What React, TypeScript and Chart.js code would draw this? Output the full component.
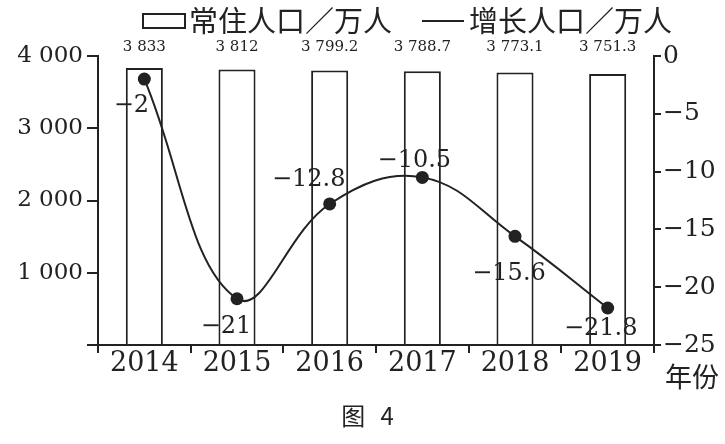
import React, { useEffect, useRef } from 'react';
import { Chart, registerables } from 'chart.js';

Chart.register(...registerables);

const years = ['2014', '2015', '2016', '2017', '2018', '2019'];
const residentPop = [3833, 3812, 3799.2, 3788.7, 3773.1, 3751.3];
const popGrowth = [-2, -21, -12.8, -10.5, -15.6, -21.8];
const leftMin = 0;
const leftMax = 4000;
const leftStep = 1000;
const rightMin = -25;
const rightMax = 0;
const rightStep = 5;
const legendLabels = ['常住人口／万人', '增长人口／万人'];
const xAxisTitle = '年份';
const caption = '图 4';
// label placement relative to each growth point (dx, dy in px)
const growthLabelOffsets = [
  [-13, 27],
  [-11, 28],
  [-21, -24],
  [-8, -17],
  [-6, 37],
  [-7, 21],
];

const INK = '#222';
const SERIF = '"DejaVu Serif", serif';
const CJK = '"Noto Sans CJK SC", sans-serif';

function fmtThousands(v: number): string {
  const [ip, dp] = String(v).split('.');
  const neg = ip.startsWith('-');
  const digits = neg ? ip.slice(1) : ip;
  let out = '';
  for (let i = 0; i < digits.length; i++) {
    const fromEnd = digits.length - i;
    out += digits[i];
    if (fromEnd > 1 && (fromEnd - 1) % 3 === 0) out += ' ';
  }
  return (neg ? '\u2212' : '') + out + (dp ? '.' + dp : '');
}

function minus(v: number): string {
  return String(v).replace('-', '\u2212');
}

const decorPlugin = {
  id: 'decor',
  afterDraw(chart: any) {
    const ctx = chart.ctx as CanvasRenderingContext2D;
    const area = chart.chartArea;
    ctx.save();
    ctx.fillStyle = INK;
    ctx.strokeStyle = INK;

    // legend
    ctx.lineWidth = 2;
    ctx.strokeRect(143, 14, 42, 14);
    ctx.font = `29px ${CJK}`;
    ctx.textAlign = 'left';
    ctx.textBaseline = 'middle';
    ctx.fillText(legendLabels[0], 189, 21);
    const w1 = ctx.measureText(legendLabels[0]).width;
    const lx = 189 + w1 + 30;
    ctx.beginPath();
    ctx.moveTo(lx, 21);
    ctx.lineTo(lx + 42, 21);
    ctx.stroke();
    ctx.fillText(legendLabels[1], lx + 47, 21);

    // bar value labels
    const barMeta = chart.getDatasetMeta(0);
    ctx.font = `15px ${SERIF}`;
    ctx.textAlign = 'center';
    barMeta.data.forEach((el: any, i: number) => {
      ctx.fillText(fmtThousands(residentPop[i]), el.x, area.top - 9);
    });

    // growth point labels
    const lineMeta = chart.getDatasetMeta(1);
    ctx.font = `24px ${SERIF}`;
    lineMeta.data.forEach((el: any, i: number) => {
      const [dx, dy] = growthLabelOffsets[i];
      ctx.fillText(minus(popGrowth[i]), el.x + dx, el.y + dy);
    });

    // x axis title
    ctx.font = `27px ${CJK}`;
    ctx.textAlign = 'left';
    ctx.fillText(xAxisTitle, 665, 377);

    // caption
    ctx.font = `24px ${CJK}`;
    ctx.textAlign = 'center';
    (ctx as any).letterSpacing = '5px';
    ctx.fillText(caption, 370, 416);
    ctx.restore();
  },
};

export default function App() {
  const ref = useRef<HTMLCanvasElement | null>(null);
  useEffect(() => {
    if (!ref.current) return;
    const chart = new Chart(ref.current, {
      type: 'bar',
      data: {
        labels: years,
        datasets: [
          {
            type: 'bar',
            label: legendLabels[0],
            data: residentPop,
            backgroundColor: '#fff',
            borderColor: INK,
            borderWidth: 2,
            barPercentage: 0.4,
            categoryPercentage: 1,
            yAxisID: 'y',
            order: 1,
          },
          {
            type: 'line',
            label: legendLabels[1],
            data: popGrowth,
            borderColor: INK,
            borderWidth: 2,
            tension: 0.4,
            pointRadius: 6.5,
            pointBackgroundColor: INK,
            pointBorderWidth: 0,
            yAxisID: 'y2',
            order: 0,
          } as any,
        ],
      },
      options: {
        responsive: false,
        animation: false,
        layout: { padding: { top: 56, left: 0, right: 0, bottom: 0 } },
        plugins: {
          legend: { display: false },
          tooltip: { enabled: false },
        },
        scales: {
          x: {
            grid: {
              offset: true,
              drawOnChartArea: false,
              tickLength: 8,
              color: INK,
              lineWidth: 2,
            },
            border: { display: true, color: INK, width: 2 },
            ticks: {
              color: INK,
              font: { size: 27, family: SERIF, lineHeight: 1 },
              padding: -3,
            },
            afterFit: (s: any) => {
              s.height = 99;
            },
          },
          y: {
            position: 'left',
            min: leftMin,
            max: leftMax,
            grid: {
              drawOnChartArea: false,
              tickLength: 11,
              color: INK,
              lineWidth: 2,
            },
            border: { display: true, color: INK, width: 2 },
            ticks: {
              stepSize: leftStep,
              color: INK,
              padding: 4,
              font: { size: 23, family: SERIF },
              callback: (v: any) => (Number(v) === 0 ? '' : fmtThousands(Number(v))),
            },
            afterFit: (s: any) => {
              s.width = 98;
            },
          },
          y2: {
            position: 'right',
            min: rightMin,
            max: rightMax,
            grid: {
              drawOnChartArea: false,
              tickLength: 7,
              color: INK,
              lineWidth: 2,
            },
            border: { display: true, color: INK, width: 2 },
            ticks: {
              stepSize: rightStep,
              color: INK,
              padding: 2,
              font: { size: 25, family: SERIF },
              callback: (v: any) => minus(Number(v)),
            },
            afterFit: (s: any) => {
              s.width = 71;
            },
          },
        },
      },
      plugins: [decorPlugin],
    });
    return () => chart.destroy();
  }, []);

  return (
    <div
      style={{
        position: 'fixed',
        left: 0,
        top: 0,
        width: 725,
        height: 444,
        background: '#fff',
      }}
    >
      <canvas ref={ref} width={725} height={444} />
    </div>
  );
}
